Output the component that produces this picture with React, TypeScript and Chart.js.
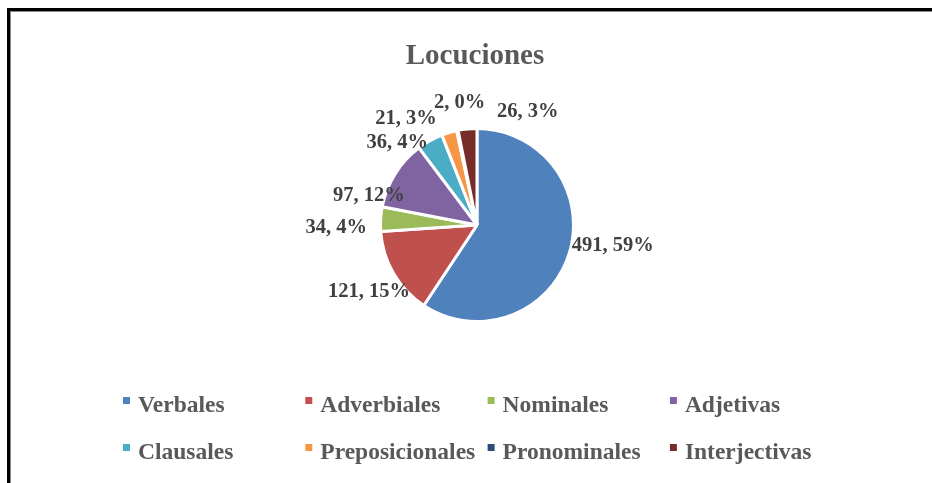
import React, { useEffect, useRef } from "react";
import { Chart, registerables } from "chart.js";

Chart.register(...registerables);

const chartTitle = "Locuciones";
const categories = [
  "Verbales",
  "Adverbiales",
  "Nominales",
  "Adjetivas",
  "Clausales",
  "Preposicionales",
  "Pronominales",
  "Interjectivas",
];
const counts = [491, 121, 34, 97, 36, 21, 2, 26];
const sliceColors = [
  "#4F81BD",
  "#C0504D",
  "#9BBB59",
  "#8064A2",
  "#4BACC6",
  "#F79646",
  "#2C4D75",
  "#772C2A",
];

// label nudges (px) relative to the geometric anchor outside each slice
const labelNudges: [number, number][] = [
  [16, -17],
  [0, 2],
  [-16, 9],
  [-2, 35],
  [-19, 25],
  [-35, 12],
  [8, -2],
  [63, 9],
];

const SERIF = "'Liberation Serif', 'Times New Roman', serif";

const overlayPlugin = {
  id: "overlay",
  afterDraw(chart: any) {
    const ctx: CanvasRenderingContext2D = chart.ctx;
    const ds = chart.data.datasets[0];
    const data = ds.data as number[];
    const colors = ds.backgroundColor as string[];
    const labels = chart.data.labels as string[];
    const total = data.reduce((a, b) => a + b, 0);
    const meta = chart.getDatasetMeta(0);
    const area = chart.chartArea;
    ctx.save();

    // title
    ctx.font = `bold 29px ${SERIF}`;
    ctx.fillStyle = "#595959";
    ctx.textAlign = "center";
    ctx.textBaseline = "alphabetic";
    ctx.fillText(chartTitle, (area.left + area.right) / 2 - 2, 64);

    // data labels
    ctx.font = `bold 20.5px ${SERIF}`;
    ctx.fillStyle = "#404040";
    meta.data.forEach((arc: any, i: number) => {
      const p = arc.getProps(["x", "y", "startAngle", "endAngle", "outerRadius"], true);
      const mid = (p.startAngle + p.endAngle) / 2;
      const R = 125;
      const ax = p.x + R * Math.cos(mid);
      const ay = p.y + R * Math.sin(mid) + 7;
      const [dx, dy] = labelNudges[i] || [0, 0];
      const pct = Math.round((data[i] / total) * 100);
      ctx.fillText(`${data[i]}, ${pct}%`, ax + dx, ay + dy);
    });

    // legend (4 columns x 2 rows)
    ctx.font = `bold 23.5px ${SERIF}`;
    ctx.textAlign = "left";
    labels.forEach((lab, i) => {
      const col = i % 4;
      const row = Math.floor(i / 4);
      const mx = 123 + col * 182.3;
      const by = 412 + row * 47;
      ctx.fillStyle = colors[i];
      ctx.fillRect(mx, by - 15, 7, 7);
      ctx.fillStyle = "#595959";
      ctx.fillText(lab, mx + 15, by);
    });
    ctx.restore();
  },
};

export default function App() {
  const canvasRef = useRef<HTMLCanvasElement | null>(null);

  useEffect(() => {
    if (!canvasRef.current) return;
    const chart = new Chart(canvasRef.current, {
      type: "pie",
      data: {
        labels: categories,
        datasets: [
          {
            data: counts,
            backgroundColor: sliceColors,
            borderColor: "#FFFFFF",
            borderWidth: 3,
          },
        ],
      },
      options: {
        responsive: false,
        animation: false,
        devicePixelRatio: 1,
        radius: 96.5,
        layout: { padding: { left: 300, right: 278, top: 125, bottom: 158 } },
        plugins: {
          legend: { display: false },
          tooltip: { enabled: false },
          title: { display: false },
        },
      } as any,
      plugins: [overlayPlugin],
    });
    return () => chart.destroy();
  }, []);

  return (
    <div
      style={{
        position: "fixed",
        left: 0,
        top: 0,
        width: 932,
        height: 483,
        overflow: "hidden",
        background: "#FFFFFF",
      }}
    >
      <div
        style={{
          position: "absolute",
          left: 7,
          top: 8,
          width: 960,
          height: 520,
          borderLeft: "3px solid #000",
          borderTop: "3px solid #000",
        }}
      />
      <div
        style={{
          position: "absolute",
          left: 10,
          top: 11,
          width: 960,
          height: 520,
          borderLeft: "1px solid #8a8a8a",
          borderTop: "1px solid #8a8a8a",
        }}
      />
      <canvas
        ref={canvasRef}
        width={932}
        height={483}
        style={{ position: "absolute", left: 0, top: 0, width: 932, height: 483 }}
      />
    </div>
  );
}
